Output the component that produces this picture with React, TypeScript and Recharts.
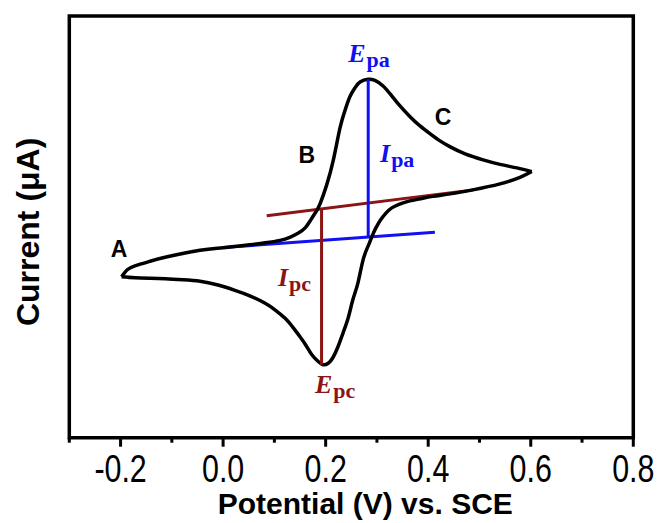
import { ComposedChart, Line, Scatter, XAxis, YAxis, ReferenceArea } from 'recharts';

// potential (V) vs current (uA)
const forwardScan = [
  { v: -0.198, i: -1.7 }, { v: -0.187, i: -1.0 }, { v: -0.172, i: -0.6 }, { v: -0.143, i: -0.15 },
  { v: -0.109, i: 0.3 }, { v: -0.045, i: 0.95 }, { v: 0.0, i: 1.2 }, { v: 0.052, i: 1.5 },
  { v: 0.082, i: 1.7 }, { v: 0.111, i: 1.95 }, { v: 0.13, i: 2.25 }, { v: 0.146, i: 2.65 },
  { v: 0.16, i: 3.2 }, { v: 0.171, i: 4.0 }, { v: 0.181, i: 4.8 }, { v: 0.189, i: 5.6 },
  { v: 0.202, i: 7.5 }, { v: 0.215, i: 10.0 }, { v: 0.228, i: 13.2 }, { v: 0.238, i: 15.0 },
  { v: 0.247, i: 16.3 }, { v: 0.257, i: 17.2 }, { v: 0.267, i: 17.8 }, { v: 0.283, i: 18.07 },
  { v: 0.296, i: 17.95 }, { v: 0.312, i: 17.4 }, { v: 0.329, i: 16.4 }, { v: 0.345, i: 15.4 },
  { v: 0.365, i: 14.3 }, { v: 0.384, i: 13.4 }, { v: 0.404, i: 12.6 }, { v: 0.423, i: 11.9 },
  { v: 0.443, i: 11.3 }, { v: 0.472, i: 10.6 }, { v: 0.507, i: 10.0 }, { v: 0.54, i: 9.55 },
  { v: 0.573, i: 9.2 }, { v: 0.602, i: 8.83 },
];

const reverseScan = [
  { v: 0.602, i: 8.83 }, { v: 0.579, i: 8.25 }, { v: 0.54, i: 7.6 }, { v: 0.487, i: 7.0 },
  { v: 0.443, i: 6.6 }, { v: 0.409, i: 6.35 }, { v: 0.384, i: 6.1 }, { v: 0.359, i: 5.82 },
  { v: 0.343, i: 5.55 }, { v: 0.329, i: 5.2 }, { v: 0.318, i: 4.7 }, { v: 0.308, i: 4.05 },
  { v: 0.298, i: 3.2 }, { v: 0.29, i: 2.3 }, { v: 0.283, i: 1.4 }, { v: 0.273, i: 0.0 },
  { v: 0.263, i: -2.3 }, { v: 0.253, i: -4.0 }, { v: 0.244, i: -5.8 }, { v: 0.234, i: -7.3 },
  { v: 0.224, i: -8.7 }, { v: 0.214, i: -9.8 }, { v: 0.205, i: -10.35 }, { v: 0.195, i: -10.5 },
  { v: 0.185, i: -10.15 }, { v: 0.173, i: -9.5 }, { v: 0.162, i: -8.6 }, { v: 0.15, i: -7.7 },
  { v: 0.136, i: -6.75 }, { v: 0.121, i: -5.85 }, { v: 0.101, i: -5.0 }, { v: 0.082, i: -4.35 },
  { v: 0.052, i: -3.6 }, { v: 0.023, i: -3.05 }, { v: -0.012, i: -2.5 }, { v: -0.045, i: -2.15 },
  { v: -0.078, i: -2.0 }, { v: -0.113, i: -1.9 }, { v: -0.143, i: -1.85 }, { v: -0.172, i: -1.8 },
  { v: -0.198, i: -1.7 },
];

// baselines and peak-current drops
const anodicBaseline = [{ v: 0.0, i: 1.23 }, { v: 0.413, i: 2.77 }];
const cathodicBaseline = [{ v: 0.085, i: 4.4 }, { v: 0.488, i: 7.0 }];
const anodicPeak = [{ v: 0.283, i: 2.28 }, { v: 0.283, i: 18.07 }];
const cathodicPeak = [{ v: 0.192, i: 5.09 }, { v: 0.192, i: -10.5 }];

const xTicks = [-0.3, -0.2, -0.1, 0.0, 0.1, 0.2, 0.3, 0.4, 0.5, 0.6, 0.7, 0.8];
const xDomain = [-0.3, 0.8];
const yDomain = [-17.8, 24.4];

// annotation anchors (start of text, baseline)
const annotations = [
  { v: -0.203, i: 0.3, main: 'A', sub: '', kind: 'letter' },
  { v: 0.163, i: 9.7, main: 'B', sub: '', kind: 'letter' },
  { v: 0.429, i: 13.5, main: 'C', sub: '', kind: 'letter' },
  { v: 0.244, i: 19.8, main: 'E', sub: 'pa', kind: 'blue' },
  { v: 0.306, i: 9.8, main: 'I', sub: 'pa', kind: 'blue' },
  { v: 0.107, i: -2.6, main: 'I', sub: 'pc', kind: 'red' },
  { v: 0.179, i: -13.3, main: 'E', sub: 'pc', kind: 'red' },
];

const BLUE = '#1010f0';
const RED = '#8b1515';

const AxisTick = ({ x, y, payload }: any) => {
  const v = payload.value;
  const major = Math.round(v * 10) % 2 === 0;
  return (
    <g>
      <line x1={x} x2={x} y1={y} y2={y + (major ? 9 : 5)} stroke="#000" strokeWidth={3} />
      {major && (
        <text
          transform={`translate(${x},${y + 44}) scale(0.8,1)`}
          textAnchor="middle"
          fontSize={38}
          fontFamily="'Liberation Sans', Arial, sans-serif"
          fill="#000"
        >
          {v.toFixed(1)}
        </text>
      )}
    </g>
  );
};

const AnnotationShape = (props: any) => {
  const { cx, cy, payload } = props;
  if (payload.kind === 'letter') {
    return (
      <text x={cx} y={cy} textAnchor="middle" fontSize={23} fontWeight="bold"
        fontFamily="'Liberation Sans', Arial, sans-serif" fill="#000">
        {payload.main}
      </text>
    );
  }
  const color = payload.kind === 'blue' ? BLUE : RED;
  return (
    <text x={cx} y={cy} fontFamily="'Liberation Serif', 'Times New Roman', serif" fontWeight="bold" fill={color}>
      <tspan fontSize={26} fontStyle="italic">{payload.main}</tspan>
      <tspan fontSize={22} dy={5} dx={1}>{payload.sub}</tspan>
    </text>
  );
};

export default function App() {
  return (
    <div style={{ width: 659, height: 523, background: '#fff' }}>
      <style>{`body{margin:0;overflow:hidden}`}</style>
      <ComposedChart width={659} height={523} margin={{ top: 16, right: 25.7, bottom: 25.3, left: 0 }}>
        <XAxis
          type="number"
          dataKey="v"
          domain={xDomain}
          ticks={xTicks}
          allowDataOverflow
          axisLine={false}
          tickLine={false}
          tickSize={0}
          tickMargin={0}
          tick={<AxisTick />}
          height={60}
          interval={0}
          label={{
            content: ({ viewBox }: any) => (
              <text x={viewBox.x + viewBox.width / 2 + 14} y={viewBox.y + 76} textAnchor="middle"
                fontSize={30} fontWeight="bold" fontFamily="'Liberation Sans', Arial, sans-serif" fill="#000">
                Potential (V) vs. SCE
              </text>
            ),
          }}
        />
        <YAxis
          type="number"
          dataKey="i"
          domain={yDomain}
          allowDataOverflow
          width={69.3}
          tick={false}
          tickLine={false}
          axisLine={false}
          label={{
            content: ({ viewBox }: any) => {
              const cx = viewBox.x + 28;
              const cy = viewBox.y + viewBox.height / 2 + 5;
              return (
                <text x={cx} y={cy} transform={`rotate(-90 ${cx} ${cy})`} textAnchor="middle"
                  dominantBaseline="central" fontSize={32} fontWeight="bold"
                  fontFamily="'Liberation Sans', Arial, sans-serif" fill="#000">
                  Current (μA)
                </text>
              );
            },
          }}
        />
        <ReferenceArea x1={xDomain[0]} x2={xDomain[1]} y1={yDomain[0]} y2={yDomain[1]}
          fill="none" stroke="#000" strokeWidth={3.5} fillOpacity={0} />
        <Line data={anodicBaseline} dataKey="i" type="linear" stroke={BLUE} strokeWidth={3} dot={false} activeDot={false} isAnimationActive={false} />
        <Line data={cathodicBaseline} dataKey="i" type="linear" stroke={RED} strokeWidth={3} dot={false} activeDot={false} isAnimationActive={false} />
        <Line data={forwardScan} dataKey="i" type="natural" stroke="#000" strokeWidth={3.5} dot={false} activeDot={false} isAnimationActive={false} />
        <Line data={reverseScan} dataKey="i" type="natural" stroke="#000" strokeWidth={3.5} dot={false} activeDot={false} isAnimationActive={false} />
        <Line data={anodicPeak} dataKey="i" type="linear" stroke={BLUE} strokeWidth={3} dot={false} activeDot={false} isAnimationActive={false} />
        <Line data={cathodicPeak} dataKey="i" type="linear" stroke={RED} strokeWidth={3} dot={false} activeDot={false} isAnimationActive={false} />
        <Scatter data={annotations} dataKey="i" shape={<AnnotationShape />} isAnimationActive={false} />
      </ComposedChart>
    </div>
  );
}
